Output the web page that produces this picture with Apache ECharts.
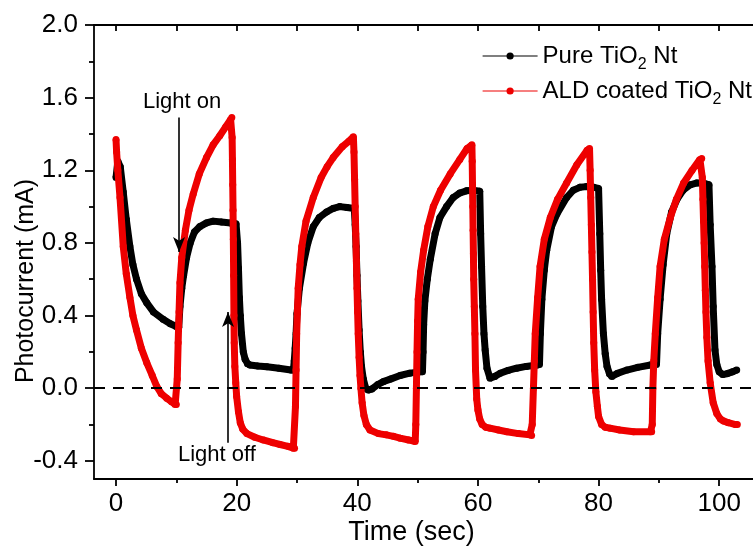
<!DOCTYPE html>
<html>
<head>
<meta charset="utf-8">
<script src="https://cdn.jsdelivr.net/npm/echarts/dist/echarts.min.js"></script>
<style>
html,body{margin:0;padding:0;background:#fff;}
#chart{width:753px;height:548px;}
</style>
</head>
<body>
<div id="chart"></div>
<script>
// ---- data ----
const timePure = [
  0, 0.3, 0.7, 1.2, 1.7, 2.3, 2.8, 3.4, 4.2, 5.1, 6.2, 7.8, 9.0, 10.0, 10.4,
  10.6, 10.9, 11.2, 11.7, 12.3, 13.0, 13.9, 15.0, 16.1, 17.5, 19.0, 19.9,
  20.15, 20.3, 20.45, 20.6, 20.8, 21.1, 21.4, 21.8, 22.2, 23.5, 25.0, 27.0, 29.0, 29.4,
  29.55, 29.7, 29.85, 30.0, 30.4, 31.1, 31.8, 32.7, 33.7, 34.9, 36.0, 37.1, 38.3, 39.5,
  39.65, 39.8, 39.95, 40.1, 40.3, 40.5, 40.7, 41.0, 41.4, 41.8, 42.4, 43.4, 44.3, 45.5, 47.1, 48.7, 50.4, 50.8,
  50.9, 51.0, 51.2, 51.6, 52.1, 52.9, 53.7, 54.8, 55.9, 57.0, 58.1, 59.2, 60.3,
  60.45, 60.6, 60.8, 61.0, 61.2, 61.5, 62.0, 62.8, 63.7, 65.0, 66.4, 68.0, 69.8, 70.2,
  70.35, 70.6, 71.0, 71.4, 72.2, 73.1, 74.7, 75.8, 76.9, 78.0, 79.2, 80.0,
  80.2, 80.35, 80.5, 80.8, 81.1, 81.4, 81.8, 82.2, 83.0, 84.7, 86.5, 88.6, 89.6,
  89.8, 90.2, 90.7, 91.3, 92.1, 93.0, 94.0, 95.2, 96.3, 97.4, 98.3,
  98.5, 98.8, 99.0, 99.3, 99.6, 100.0, 100.6, 101.3, 102.2, 102.9
];
const pureValues = [
  1.16, 1.25, 1.22, 1.08, 0.93, 0.78, 0.68, 0.60, 0.52, 0.47, 0.42, 0.38, 0.355, 0.34, 0.335,
  0.45, 0.55, 0.62, 0.72, 0.80, 0.86, 0.89, 0.91, 0.92, 0.915, 0.91, 0.905,
  0.80, 0.66, 0.50, 0.40, 0.30, 0.20, 0.16, 0.135, 0.128, 0.122, 0.118, 0.11, 0.10, 0.10,
  0.15, 0.22, 0.30, 0.41, 0.55, 0.69, 0.80, 0.89, 0.94, 0.97, 0.99, 1.0, 0.995, 0.99,
  0.9, 0.78, 0.62, 0.48, 0.32, 0.2, 0.12, 0.05, 0.0, -0.01, -0.005, 0.02, 0.036, 0.05, 0.07, 0.083, 0.09, 0.09,
  0.2, 0.35, 0.48, 0.6, 0.71, 0.85, 0.94, 1.0, 1.05, 1.075, 1.087, 1.09, 1.085,
  0.85, 0.67, 0.45, 0.30, 0.21, 0.11, 0.055, 0.065, 0.082, 0.098, 0.11, 0.12, 0.128, 0.13,
  0.3, 0.49, 0.65, 0.76, 0.89, 0.96, 1.05, 1.09, 1.106, 1.11, 1.106, 1.1,
  0.85, 0.65, 0.49, 0.30, 0.19, 0.12, 0.08, 0.064, 0.08, 0.10, 0.115, 0.128, 0.13,
  0.3, 0.49, 0.68, 0.85, 0.97, 1.04, 1.09, 1.12, 1.13, 1.13, 1.12,
  0.9, 0.67, 0.45, 0.21, 0.13, 0.09, 0.075, 0.08, 0.09, 0.1
];
const timeALD = [
  0, 0.1, 0.3, 0.66, 1.2, 1.7, 2.3, 2.8, 3.4, 4.2, 5.1, 6.0, 6.75, 7.5, 8.4, 9.2, 9.8, 10.0,
  10.15, 10.3, 10.45, 10.6, 10.9, 11.5, 12.1, 12.8, 13.8, 15.0, 16.1, 17.2, 18.2, 19.0, 19.2,
  19.25, 19.3, 19.35, 19.4, 19.45, 19.5, 19.55, 19.6, 19.7, 19.85, 20.0, 20.3, 20.6, 21.0, 21.7, 23.0, 24.4, 26.0, 27.2, 28.5, 29.4, 29.6,
  29.75, 29.85, 29.95, 30.2, 30.5, 30.8, 31.5, 32.7, 34.0, 35.0, 36.0, 37.5, 38.6, 39.35,
  39.45, 39.55, 39.65, 39.75, 39.85, 39.95, 40.05, 40.15, 40.3, 40.45, 40.6, 40.8, 41.1, 41.5, 42.1, 43.5, 44.8, 46.0, 47.1, 48.5, 49.6,
  49.7, 49.8, 49.9, 50.0, 50.1, 50.5, 51.0, 51.7, 52.6, 53.8, 55.4, 57.0, 58.2, 59.0,
  59.05, 59.1, 59.15, 59.2, 59.25, 59.3, 59.4, 59.5, 59.6, 59.8, 60.0, 60.3, 60.7, 61.3, 62.0, 63.4, 64.8, 66.7, 68.6, 68.9,
  69.0, 69.2, 69.35, 69.5, 69.9, 70.3, 71.0, 72.0, 73.2, 74.7, 76.4, 78.1, 78.5,
  78.6, 78.7, 78.8, 78.9, 79.0, 79.1, 79.2, 79.35, 79.55, 79.8, 80.0, 80.5, 81.1, 81.9, 83.5, 85.8, 88.6, 88.8,
  88.9, 89.0, 89.15, 89.4, 89.8, 90.2, 90.9, 91.9, 92.9, 94.1, 95.5, 96.8, 97.1,
  97.2, 97.3, 97.4, 97.5, 97.6, 97.7, 97.8, 97.95, 98.15, 98.5, 99.0, 99.6, 100.2, 100.7, 101.5, 102.7, 103.0
];
const aldValues = [
  1.37, 1.30, 1.20, 1.05, 0.78, 0.63, 0.50, 0.40, 0.32, 0.22, 0.14, 0.07, 0.01, -0.03, -0.055, -0.075, -0.09, -0.09,
  0.05, 0.25, 0.42, 0.58, 0.72, 0.87, 0.98, 1.07, 1.18, 1.27, 1.34, 1.39, 1.44, 1.48, 1.49,
  1.38, 1.26, 1.12, 0.98, 0.82, 0.62, 0.40, 0.25, 0.12, 0.03, -0.046, -0.13, -0.19, -0.225, -0.25, -0.27, -0.285, -0.30, -0.31, -0.32, -0.33, -0.33,
  -0.1, 0.1, 0.3, 0.55, 0.68, 0.78, 0.92, 1.05, 1.16, 1.22, 1.27, 1.33, 1.36, 1.385,
  1.3, 1.15, 1.0, 0.85, 0.7, 0.55, 0.42, 0.3, 0.17, 0.07, 0.0, -0.08, -0.15, -0.2, -0.23, -0.25, -0.257, -0.265, -0.275, -0.285, -0.294,
  -0.2, 0.0, 0.2, 0.37, 0.49, 0.64, 0.76, 0.89, 1.0, 1.09, 1.18, 1.26, 1.32, 1.34,
  1.25, 1.12, 1.0, 0.87, 0.74, 0.6, 0.45, 0.3, 0.1, -0.06, -0.12, -0.17, -0.2, -0.215, -0.22, -0.23, -0.24, -0.25, -0.257, -0.26,
  -0.2, 0.0, 0.15, 0.3, 0.5, 0.67, 0.82, 0.94, 1.04, 1.13, 1.23, 1.31, 1.32,
  1.2, 1.05, 0.9, 0.75, 0.6, 0.42, 0.25, 0.1, -0.02, -0.1, -0.156, -0.2, -0.215, -0.22, -0.23, -0.24, -0.24, -0.24,
  -0.2, 0.0, 0.15, 0.3, 0.5, 0.67, 0.82, 0.94, 1.04, 1.13, 1.2, 1.26, 1.265,
  1.16, 1.04, 0.92, 0.8, 0.67, 0.54, 0.42, 0.28, 0.15, 0.03, -0.08, -0.14, -0.17, -0.18, -0.19, -0.2, -0.2
];
const seriesNames = ['Pure TiO2 Nt', 'ALD coated TiO2 Nt'];
const xTickValues = [0, 20, 40, 60, 80, 100];
const xMinorTickValues = [10, 30, 50, 70, 90];
const xTopTickValues = [0, 10, 20, 30, 40, 50, 60, 70, 80, 90, 100];
const yTickValues = [-0.4, 0.0, 0.4, 0.8, 1.2, 1.6, 2.0];
const yMinorTickValues = [-0.2, 0.2, 0.6, 1.0, 1.4, 1.8];
const xMin = -3.65, xMax = 105.6, yMin = -0.5, yMax = 2.0;
// annotation arrows (data coordinates)
const lightOnArrow = [[10.45, 1.49], [10.45, 0.75]];
const lightOffArrow = [[18.57, -0.30], [18.57, 0.42]];

const FONT = 'Liberation Sans, Arial, sans-serif';
const chart = echarts.init(document.getElementById('chart'), null, {renderer: 'canvas'});

const black = '#000';
const red = '#ee0000';
const hidden = {
  type: 'value', splitLine: {show: false},
  axisLine: {show: false, onZero: false}, axisLabel: {show: false}, axisTick: {show: false}
};

const option = {
  animation: false,
  backgroundColor: '#fff',
  grid: {left: 94, right: 0, top: 25, bottom: 69, containLabel: false, outerBoundsMode: 'none'},
  xAxis: [
    Object.assign({}, hidden, {
      min: xMin, max: xMax, position: 'bottom',
      axisLine: {show: true, onZero: false, lineStyle: {color: black, width: 1.8}},
      axisTick: {show: true, inside: false, length: 7, customValues: xTickValues, lineStyle: {color: black, width: 1.8}},
      axisLabel: {show: true, customValues: xTickValues, margin: 12, color: black, fontSize: 26, fontFamily: FONT},
      name: 'Time (sec)', nameLocation: 'middle', nameGap: 40, nameMoveOverlap: false,
      nameTextStyle: {fontSize: 27, fontFamily: FONT, color: black, padding: [0, 24, 0, 0]}
    }),
    Object.assign({}, hidden, {
      min: xMin, max: xMax, position: 'bottom',
      axisTick: {show: true, inside: false, length: 4, customValues: xMinorTickValues, lineStyle: {color: black, width: 1.8}}
    }),
    Object.assign({}, hidden, {
      min: xMin, max: xMax, position: 'top',
      axisLine: {show: true, onZero: false, lineStyle: {color: black, width: 1.8}},
      axisTick: {show: true, inside: true, length: 6, customValues: xTopTickValues, lineStyle: {color: black, width: 1.8}}
    })
  ],
  yAxis: [
    Object.assign({}, hidden, {
      min: yMin, max: yMax, position: 'left',
      axisLine: {show: true, onZero: false, lineStyle: {color: black, width: 1.8}},
      axisTick: {show: true, inside: false, length: 9, customValues: yTickValues, lineStyle: {color: black, width: 1.8}},
      axisLabel: {show: true, customValues: yTickValues, margin: 16, color: black, fontSize: 26, fontFamily: FONT,
        formatter: v => v.toFixed(1)},
      name: 'Photocurrent (mA)', nameLocation: 'middle', nameGap: 55, nameRotate: 90, nameMoveOverlap: false,
      nameTextStyle: {fontSize: 25, fontFamily: FONT, color: black, padding: [0, 58, 0, 0]}
    }),
    Object.assign({}, hidden, {
      min: yMin, max: yMax, position: 'left',
      axisTick: {show: true, inside: false, length: 5, customValues: yMinorTickValues, lineStyle: {color: black, width: 1.8}}
    })
  ],
  legend: {
    orient: 'vertical', left: 482, top: 44, padding: 0, itemGap: 6,
    itemWidth: 55, itemHeight: 9,
    data: seriesNames,
    lineStyle: {width: 1.2},
    formatter: n => n === seriesNames[0] ? '{a|Pure TiO}{s|2}{a| Nt}' : '{a|ALD coated TiO}{s|2}{a| Nt}',
    textStyle: {
      color: black, fontSize: 24, fontFamily: FONT, padding: [0, 0, 0, 0],
      rich: {
        a: {fontSize: 24, fontFamily: FONT, color: black, lineHeight: 34},
        s: {fontSize: 16, fontFamily: FONT, color: black, lineHeight: 15, verticalAlign: 'bottom'}
      }
    }
  },
  series: [
    {
      name: seriesNames[0], type: 'line', xAxisIndex: 0, yAxisIndex: 0,
      data: timePure.map((t, i) => [t, pureValues[i]]),
      symbol: 'circle', symbolSize: 7, showSymbol: true,
      itemStyle: {color: black},
      lineStyle: {color: black, width: 7},
      z: 2,
      markLine: {
        silent: true, symbol: ['none', 'none'], label: {show: false},
        data: [
          {yAxis: 0, lineStyle: {color: black, width: 2, type: [11, 8]}},
          [
            {coord: lightOnArrow[0], symbol: 'none', lineStyle: {color: black, width: 1.6, type: 'solid'}},
            {coord: lightOnArrow[1], symbol: 'arrow', symbolSize: [9, 15]}
          ],
          [
            {coord: lightOffArrow[0], symbol: 'none', lineStyle: {color: black, width: 1.6, type: 'solid'}},
            {coord: lightOffArrow[1], symbol: 'arrow', symbolSize: [9, 15]}
          ]
        ]
      }
    },
    {
      name: seriesNames[1], type: 'line', xAxisIndex: 0, yAxisIndex: 0,
      data: timeALD.map((t, i) => [t, aldValues[i]]),
      symbol: 'circle', symbolSize: 7, showSymbol: true,
      itemStyle: {color: red},
      lineStyle: {color: red, width: 7},
      z: 3
    }
  ],
  graphic: [
    {type: 'text', left: 143, top: 91, style: {text: 'Light on', font: '22px ' + FONT, fill: black}},
    {type: 'text', left: 178, top: 444, style: {text: 'Light off', font: '22px ' + FONT, fill: black}}
  ]
};
chart.setOption(option);
</script>
</body>
</html>
